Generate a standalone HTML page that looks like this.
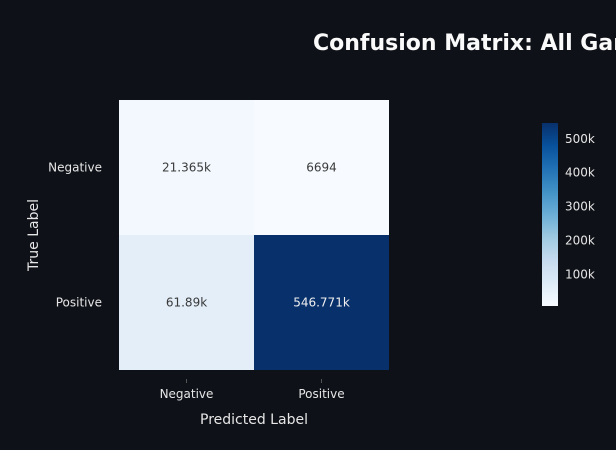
<!DOCTYPE html>
<html><head><meta charset="utf-8">
<style>
html,body{margin:0;padding:0;background:#0e1117;overflow:hidden;width:616px;height:450px}
svg{display:block;font-family:"DejaVu Sans","Liberation Sans",sans-serif}
</style></head>
<body>
<svg id="chart" width="616" height="450">
<defs>
<linearGradient id="cbg" x1="0" y1="1" x2="0" y2="0">
<stop offset="0" stop-color="#f7fbff"/><stop offset="0.125" stop-color="#deebf7"/>
<stop offset="0.25" stop-color="#c6dbef"/><stop offset="0.375" stop-color="#9ecae1"/>
<stop offset="0.5" stop-color="#6baed6"/><stop offset="0.625" stop-color="#4292c6"/>
<stop offset="0.75" stop-color="#2171b5"/><stop offset="0.875" stop-color="#08519c"/>
<stop offset="1" stop-color="#08306b"/>
</linearGradient>
</defs>
<text x="313" y="50" fill="#fafafa" font-size="22" font-weight="bold">Confusion Matrix: All Games</text>
<g id="cells"></g>
<text x="254" y="424" fill="#e6e6e6" font-size="14" text-anchor="middle">Predicted Label</text>
<text transform="translate(38,235) rotate(-90)" fill="#e6e6e6" font-size="14" text-anchor="middle">True Label</text>
<rect x="542" y="123" width="16" height="183" fill="url(#cbg)"/>
<g id="cbticks"></g>
</svg>
<script>
const trueLabels = ["Negative","Positive"];
const predLabels = ["Negative","Positive"];
const counts = [[21365, 6694],[61890, 546771]];
const printed = [["21.365k","6694"],["61.89k","546.771k"]];
const cbTickValues = [100000,200000,300000,400000,500000];
const cbTickLabels = ["100k","200k","300k","400k","500k"];

const NS="http://www.w3.org/2000/svg";
const X0=119,Y0=100,CELL=135;
const flat=counts.flat();
const vmin=Math.min(...flat), vmax=Math.max(...flat);
const stops=["#f7fbff","#deebf7","#c6dbef","#9ecae1","#6baed6","#4292c6","#2171b5","#08519c","#08306b"];
function hex(c){return [1,3,5].map(i=>parseInt(c.substr(i,2),16));}
function color(v){
  let t=(v-vmin)/(vmax-vmin); t=Math.max(0,Math.min(1,t));
  const p=t*(stops.length-1), i=Math.min(Math.floor(p),stops.length-2), f=p-i;
  const a=hex(stops[i]), b=hex(stops[i+1]);
  return "rgb("+a.map((x,k)=>Math.round(x+(b[k]-x)*f)).join(",")+")";
}
const xPos=j=>X0+j*CELL, yPos=i=>Y0+i*CELL;
const cbY=v=>306-(v-vmin)/(vmax-vmin)*183;
function mk(tag,attrs,parent,text){const e=document.createElementNS(NS,tag);for(const k in attrs)e.setAttribute(k,attrs[k]);if(text!==undefined)e.textContent=text;parent.appendChild(e);return e;}
const g=document.getElementById("cells"), svg=document.getElementById("chart");
counts.forEach((row,i)=>row.forEach((v,j)=>{
  const r=mk("rect",{x:xPos(j),y:yPos(i),width:CELL,height:CELL,fill:color(v)},g);
  
  
  const t=mk("text",{x:xPos(j)+CELL/2,y:yPos(i)+CELL/2+4,"text-anchor":"middle","font-size":"12",fill:(v-vmin)/(vmax-vmin)>0.5?"#f0f0f0":"#3a3a3a"},g,printed[i][j]);
  
  
}));
trueLabels.forEach((l,i)=>{
  const t=mk("text",{x:102,y:yPos(i)+CELL/2+4,"text-anchor":"end","font-size":"12",fill:"#e6e6e6"},svg,l);
  
  
});
predLabels.forEach((l,j)=>{
  const tk=mk("line",{x1:xPos(j)+CELL/2,x2:xPos(j)+CELL/2,y1:379,y2:383,stroke:"#555"},svg);
  
  
  const t=mk("text",{x:xPos(j)+CELL/2,y:398,"text-anchor":"middle","font-size":"12",fill:"#e6e6e6"},svg,l);
  
  
});
const cg=document.getElementById("cbticks");
cbTickValues.forEach((v,k)=>{
  const t=mk("text",{x:565,y:cbY(v)+4,"font-size":"12",fill:"#e6e6e6"},cg,cbTickLabels[k]);
  
  
});
</script>
</body></html>
